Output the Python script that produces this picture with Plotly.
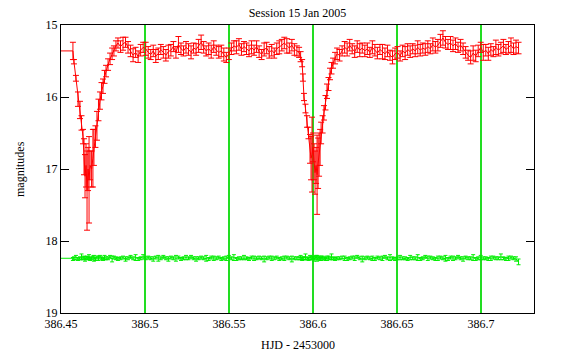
import plotly.graph_objects as go

# ---------------- data ----------------
# observation times (HJD - 2453000), by segment
t_pre = [386.4400]
t_ing1 = [386.4571, 386.4577, 386.4589, 386.4601, 386.4613, 386.4622, 386.4631, 386.4637,
          386.4643, 386.4649, 386.4655, 386.4661, 386.4667, 386.4673, 386.4682, 386.4690,
          386.4696, 386.4705, 386.4714, 386.4723, 386.4732, 386.4741, 386.4750, 386.4759,
          386.4768, 386.4780, 386.4792, 386.4804, 386.4815, 386.4827, 386.4839]
t_plat1 = [386.4854, 386.4869, 386.4884, 386.4899, 386.4914, 386.4929, 386.4944, 386.4959, 386.4974, 386.4989,
           386.5004, 386.5019, 386.5034, 386.5049, 386.5064, 386.5079, 386.5094, 386.5109, 386.5124, 386.5139,
           386.5154, 386.5169, 386.5184, 386.5199, 386.5214, 386.5229, 386.5244, 386.5259, 386.5274, 386.5289,
           386.5304, 386.5319, 386.5334, 386.5349, 386.5364, 386.5379, 386.5394, 386.5409, 386.5424, 386.5439,
           386.5454, 386.5469, 386.5484, 386.5499, 386.5514, 386.5529, 386.5544, 386.5559, 386.5574, 386.5589,
           386.5604, 386.5619, 386.5634, 386.5649, 386.5664, 386.5679, 386.5694, 386.5709, 386.5724, 386.5739,
           386.5754, 386.5769, 386.5784, 386.5799, 386.5814, 386.5829, 386.5844, 386.5859, 386.5874, 386.5889,
           386.5904]
t_ecl2 = [386.5917, 386.5926, 386.5935, 386.5940, 386.5946, 386.5955, 386.5964, 386.5973, 386.5982, 386.5988,
          386.5994, 386.6000, 386.6006, 386.6012, 386.6018, 386.6024, 386.6030, 386.6036, 386.6042, 386.6048,
          386.6057, 386.6065, 386.6074, 386.6083, 386.6092, 386.6101, 386.6110, 386.6119, 386.6131, 386.6143]
t_plat2 = [386.6158, 386.6173, 386.6188, 386.6203, 386.6218, 386.6233, 386.6248, 386.6263, 386.6278, 386.6293,
           386.6308, 386.6323, 386.6338, 386.6353, 386.6368, 386.6383, 386.6398, 386.6413, 386.6428, 386.6443,
           386.6458, 386.6473, 386.6488, 386.6503, 386.6518, 386.6533, 386.6548, 386.6563, 386.6578, 386.6593,
           386.6608, 386.6623, 386.6638, 386.6653, 386.6668, 386.6683, 386.6698, 386.6713, 386.6728, 386.6743,
           386.6758, 386.6773, 386.6788, 386.6803, 386.6818, 386.6833, 386.6848, 386.6863, 386.6878, 386.6893,
           386.6908, 386.6923, 386.6938, 386.6953, 386.6968, 386.6983, 386.6998, 386.7013, 386.7028, 386.7043,
           386.7058, 386.7073, 386.7088, 386.7103, 386.7118, 386.7133, 386.7148, 386.7163, 386.7178, 386.7193,
           386.7208, 386.7223]

# variable star (red) magnitudes and errors
v_pre = [15.36]
v_ing1 = [15.36, 15.51, 15.74, 16.03, 16.18, 16.36, 16.55, 16.83, 17.10, 16.95, 17.30, 17.00, 17.15, 16.95,
          17.00, 16.85, 16.70, 16.55, 16.40, 16.18, 16.05, 15.92, 15.85, 15.72, 15.64, 15.55, 15.47, 15.40,
          15.36, 15.29, 15.25]
v_plat1 = [15.30, 15.26, 15.24, 15.31, 15.36, 15.42, 15.38, 15.44, 15.35, 15.31,
           15.33, 15.38, 15.41, 15.36, 15.43, 15.40, 15.34, 15.38, 15.42, 15.37,
           15.35, 15.30, 15.38, 15.27, 15.33, 15.36, 15.31, 15.34, 15.38, 15.32,
           15.34, 15.29, 15.24, 15.31, 15.36, 15.33, 15.37, 15.30, 15.35, 15.38,
           15.36, 15.41, 15.45, 15.40, 15.33, 15.29, 15.31, 15.27, 15.34, 15.30,
           15.33, 15.36, 15.31, 15.35, 15.30, 15.37, 15.41, 15.34, 15.32, 15.38,
           15.35, 15.39, 15.33, 15.31, 15.28, 15.25, 15.29, 15.32, 15.28, 15.34,
           15.36]
v_ecl2 = [15.38, 15.44, 15.53, 15.73, 16.00, 16.16, 16.34, 16.50, 16.72, 16.85, 16.80, 16.70, 16.90, 17.05,
          16.95, 17.08, 16.92, 16.80, 16.70, 16.50, 16.38, 16.22, 16.08, 15.92, 15.82, 15.68, 15.60, 15.53,
          15.46, 15.40]
v_plat2 = [15.42, 15.36, 15.31, 15.34, 15.28, 15.33, 15.37, 15.30, 15.35, 15.32,
           15.36, 15.33, 15.38, 15.31, 15.35, 15.39, 15.34, 15.37, 15.40, 15.36,
           15.42, 15.45, 15.40, 15.38, 15.43, 15.36, 15.39, 15.34, 15.37, 15.33,
           15.36, 15.31, 15.35, 15.32, 15.34, 15.30, 15.33, 15.27, 15.31, 15.28,
           15.22, 15.18, 15.24, 15.27, 15.25, 15.29, 15.26, 15.31, 15.28, 15.33,
           15.38, 15.42, 15.45, 15.39, 15.43, 15.36, 15.31, 15.38, 15.35, 15.40,
           15.34, 15.37, 15.31, 15.35, 15.32, 15.29, 15.34, 15.31, 15.28, 15.33,
           15.30, 15.32]

e_pre = [0.0]
e_ing1 = [0.12, 0.03, 0.04, 0.10, 0.12, 0.10, 0.10, 0.25, 0.30, 0.30, 0.55, 0.30, 0.60, 0.20, 0.25, 0.40,
          0.25, 0.15, 0.20, 0.15, 0.12, 0.12, 0.10, 0.09, 0.08, 0.08, 0.08, 0.08, 0.07, 0.07, 0.07]
e_plat1 = [0.08, 0.09, 0.07, 0.08, 0.08, 0.09, 0.07, 0.08, 0.08, 0.07,
           0.09, 0.08, 0.07, 0.08, 0.09, 0.08, 0.07, 0.08, 0.08, 0.09,
           0.08, 0.07, 0.08, 0.11, 0.08, 0.07, 0.08, 0.08, 0.09, 0.07,
           0.08, 0.09, 0.10, 0.08, 0.07, 0.08, 0.09, 0.08, 0.07, 0.08,
           0.08, 0.09, 0.07, 0.08, 0.08, 0.07, 0.09, 0.08, 0.08, 0.07,
           0.08, 0.08, 0.09, 0.07, 0.08, 0.08, 0.07, 0.09, 0.08, 0.08,
           0.08, 0.07, 0.08, 0.09, 0.08, 0.08, 0.10, 0.07, 0.08, 0.08,
           0.07]
e_ecl2 = [0.07, 0.07, 0.05, 0.05, 0.05, 0.06, 0.08, 0.08, 0.20, 0.30, 0.52, 0.20, 0.25, 0.30, 0.25, 0.55,
          0.35, 0.30, 0.25, 0.15, 0.12, 0.10, 0.10, 0.10, 0.09, 0.08, 0.08, 0.07, 0.08, 0.08]
e_plat2 = [0.08, 0.07, 0.08, 0.09, 0.08, 0.07, 0.08, 0.08, 0.09, 0.07,
           0.08, 0.08, 0.07, 0.09, 0.08, 0.08, 0.07, 0.10, 0.08, 0.08,
           0.07, 0.09, 0.08, 0.08, 0.07, 0.08, 0.09, 0.08, 0.08, 0.07,
           0.08, 0.09, 0.08, 0.07, 0.08, 0.08, 0.07, 0.09, 0.08, 0.08,
           0.09, 0.10, 0.08, 0.07, 0.09, 0.08, 0.08, 0.07, 0.08, 0.08,
           0.08, 0.07, 0.09, 0.10, 0.08, 0.08, 0.07, 0.11, 0.08, 0.09,
           0.08, 0.07, 0.10, 0.08, 0.08, 0.09, 0.07, 0.08, 0.10, 0.08,
           0.09, 0.08]

# comparison star (green) magnitudes and errors
c_pre = [18.24]
c_ing1 = [18.25, 18.24, 18.23, 18.25, 18.24, 18.22, 18.24, 18.23, 18.25, 18.24, 18.23, 18.24, 18.22,
          18.25, 18.24, 18.23, 18.24, 18.25, 18.23, 18.24, 18.22, 18.24, 18.25, 18.23, 18.24, 18.24,
          18.22, 18.25, 18.23, 18.24, 18.25]
c_plat1 = [18.24, 18.23, 18.25, 18.24, 18.22, 18.24, 18.23, 18.25, 18.24, 18.22,
           18.24, 18.23, 18.24, 18.25, 18.23, 18.24, 18.24, 18.22, 18.24, 18.25,
           18.23, 18.24, 18.24, 18.23, 18.25, 18.24, 18.23, 18.24, 18.22, 18.24,
           18.25, 18.24, 18.23, 18.24, 18.24, 18.25, 18.23, 18.24, 18.24, 18.23,
           18.25, 18.24, 18.24, 18.22, 18.24, 18.23, 18.25, 18.24, 18.24, 18.23,
           18.24, 18.25, 18.23, 18.24, 18.24, 18.23, 18.24, 18.25, 18.24, 18.23,
           18.24, 18.24, 18.23, 18.25, 18.24, 18.24, 18.23, 18.24, 18.25, 18.24,
           18.24]
c_ecl2 = [18.24, 18.23, 18.25, 18.24, 18.24, 18.22, 18.24, 18.25, 18.23, 18.24,
          18.24, 18.23, 18.25, 18.24, 18.22, 18.24, 18.24, 18.23, 18.25, 18.24,
          18.23, 18.24, 18.25, 18.24, 18.23, 18.24, 18.22, 18.24, 18.25, 18.24]
c_plat2 = [18.24, 18.23, 18.24, 18.25, 18.24, 18.23, 18.24, 18.22, 18.24, 18.25,
           18.24, 18.23, 18.24, 18.24, 18.25, 18.23, 18.24, 18.24, 18.22, 18.24,
           18.23, 18.24, 18.25, 18.24, 18.23, 18.24, 18.24, 18.25, 18.23, 18.24,
           18.24, 18.23, 18.25, 18.24, 18.22, 18.24, 18.23, 18.24, 18.25, 18.24,
           18.23, 18.24, 18.24, 18.25, 18.23, 18.24, 18.24, 18.22, 18.24, 18.25,
           18.23, 18.24, 18.24, 18.23, 18.25, 18.24, 18.23, 18.24, 18.24, 18.25,
           18.24, 18.23, 18.24, 18.24, 18.22, 18.24, 18.25, 18.24, 18.23, 18.24,
           18.25, 18.29]

ce_pre = [0.0]
ce_ing1 = [0.02, 0.02, 0.03, 0.02, 0.02, 0.04, 0.02, 0.02, 0.03, 0.02, 0.02, 0.02, 0.03, 0.02, 0.02, 0.02,
           0.04, 0.02, 0.02, 0.03, 0.02, 0.02, 0.02, 0.03, 0.02, 0.02, 0.02, 0.04, 0.02, 0.02, 0.02]
ce_plat1 = [0.02, 0.02, 0.03, 0.02, 0.02, 0.02, 0.04, 0.02, 0.02, 0.03,
            0.02, 0.02, 0.02, 0.03, 0.02, 0.04, 0.02, 0.02, 0.02, 0.03,
            0.02, 0.02, 0.04, 0.02, 0.02, 0.02, 0.03, 0.02, 0.02, 0.02,
            0.03, 0.02, 0.02, 0.02, 0.04, 0.02, 0.02, 0.03, 0.02, 0.02,
            0.02, 0.02, 0.03, 0.02, 0.02, 0.04, 0.02, 0.02, 0.02, 0.03,
            0.02, 0.02, 0.02, 0.03, 0.02, 0.02, 0.02, 0.04, 0.02, 0.02,
            0.03, 0.02, 0.02, 0.02, 0.02, 0.03, 0.02, 0.02, 0.04, 0.02,
            0.02]
ce_ecl2 = [0.02, 0.03, 0.02, 0.02, 0.02, 0.04, 0.02, 0.02, 0.03, 0.02,
           0.02, 0.02, 0.03, 0.02, 0.02, 0.04, 0.02, 0.02, 0.02, 0.03,
           0.02, 0.02, 0.02, 0.03, 0.02, 0.02, 0.04, 0.02, 0.02, 0.02]
ce_plat2 = [0.02, 0.02, 0.03, 0.02, 0.02, 0.02, 0.03, 0.02, 0.02, 0.04,
            0.02, 0.02, 0.02, 0.03, 0.02, 0.02, 0.02, 0.03, 0.02, 0.02,
            0.04, 0.02, 0.02, 0.02, 0.03, 0.02, 0.02, 0.02, 0.03, 0.02,
            0.02, 0.04, 0.02, 0.02, 0.02, 0.03, 0.02, 0.02, 0.02, 0.03,
            0.02, 0.02, 0.04, 0.02, 0.02, 0.03, 0.02, 0.02, 0.02, 0.03,
            0.02, 0.02, 0.02, 0.04, 0.02, 0.02, 0.03, 0.02, 0.02, 0.02,
            0.03, 0.02, 0.02, 0.02, 0.04, 0.02, 0.02, 0.03, 0.02, 0.02,
            0.03, 0.04]

x_ticks = [386.45, 386.5, 386.55, 386.6, 386.65, 386.7]
x_tick_labels = ["386.45", "386.5", "386.55", "386.6", "386.65", "386.7"]
y_ticks = [15, 16, 17, 18, 19]
y_tick_labels = ["15", "16", "17", "18", "19"]

# ---------------- figure ----------------
t = t_pre + t_ing1 + t_plat1 + t_ecl2 + t_plat2
var_mag = v_pre + v_ing1 + v_plat1 + v_ecl2 + v_plat2
var_err = e_pre + e_ing1 + e_plat1 + e_ecl2 + e_plat2
cmp_mag = c_pre + c_ing1 + c_plat1 + c_ecl2 + c_plat2
cmp_err = ce_pre + ce_ing1 + ce_plat1 + ce_ecl2 + ce_plat2

FONT = "Liberation Serif"
RED = "#ff0000"
GREEN = "#00ee00"
GRID = "#22dd22"

fig = go.Figure()
fig.add_trace(go.Scatter(
    x=t, y=cmp_mag, mode="lines",
    line=dict(color=GREEN, width=1),
    error_y=dict(type="data", array=cmp_err, visible=True, color=GREEN, thickness=1, width=2)))
fig.add_trace(go.Scatter(
    x=t, y=var_mag, mode="lines",
    line=dict(color=RED, width=1),
    error_y=dict(type="data", array=var_err, visible=True, color=RED, thickness=1, width=3)))

fig.update_layout(
    template="none",
    width=567, height=351,
    margin=dict(l=61, r=33, t=25, b=38, pad=0),
    paper_bgcolor="white", plot_bgcolor="white",
    font=dict(family=FONT, size=12, color="black"),
    title=dict(text="Session 15 Jan 2005", x=0.5, xref="paper", xanchor="center",
               y=1 - 13 / 351, yref="container", yanchor="middle",
               font=dict(family=FONT, size=12, color="black")),
    showlegend=False,
)
fig.update_xaxes(
    range=[386.45, 386.7315], tickmode="array", tickvals=x_ticks, ticktext=x_tick_labels,
    showgrid=True, gridcolor=GRID, gridwidth=1.5, zeroline=False,
    showline=True, linecolor="black", linewidth=1, mirror=True,
    ticks="",
    tickfont=dict(family=FONT, size=12, color="black"))
fig.update_yaxes(
    range=[19, 15], tickmode="array", tickvals=y_ticks, ticktext=y_tick_labels,
    showgrid=False, zeroline=False,
    showline=True, linecolor="black", linewidth=1, mirror="ticks",
    ticks="inside", ticklen=8, tickcolor="black", tickwidth=1,
    tickfont=dict(family=FONT, size=12, color="black"))

fig.add_annotation(text="HJD - 2453000", xref="paper", yref="paper", x=0.5, y=-(345 - 313) / 288,
                   xanchor="center", yanchor="middle", showarrow=False,
                   font=dict(family=FONT, size=12, color="black"))
fig.add_annotation(text="magnitudes", xref="paper", yref="paper", x=(20 - 61) / 473, y=0.5,
                   xanchor="center", yanchor="middle", textangle=-90, showarrow=False,
                   font=dict(family=FONT, size=12, color="black"))

fig.write_html("out.html")
